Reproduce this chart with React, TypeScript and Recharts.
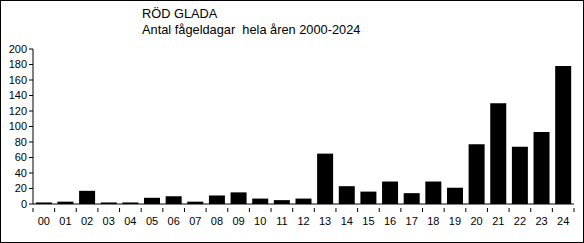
import { BarChart, Bar, XAxis, YAxis } from 'recharts';

const years = ['00', '01', '02', '03', '04', '05', '06', '07', '08', '09', '10', '11', '12',
  '13', '14', '15', '16', '17', '18', '19', '20', '21', '22', '23', '24'];
const dagar = [2, 3, 17, 2, 2, 8, 10, 3, 11, 15, 7, 5, 7,
  65, 23, 16, 29, 14, 29, 21, 77, 130, 74, 93, 178];
const yTicks = [0, 20, 40, 60, 80, 100, 120, 140, 160, 180, 200];

const W = 584;
const H = 243;
const LEFT = 33;
const RIGHT = 10;
const font = 'Arial, "Liberation Sans", sans-serif';

const data = years.map((y, i) => ({ year: y, value: dagar[i] }));

const bandW = (W - LEFT - RIGHT) / years.length;

function XTick(props: any) {
  const { x, y, payload, index } = props;
  const left = x - bandW / 2;
  return (
    <g>
      <line x1={left} y1={y - 4} x2={left} y2={y} stroke="#000" />
      {index === years.length - 1 && (
        <line x1={x + bandW / 2} y1={y - 4} x2={x + bandW / 2} y2={y} stroke="#000" />
      )}
      <text x={x} y={y + 13} textAnchor="middle" fontSize={11} fontFamily={font} fill="#000">
        {payload.value}
      </text>
    </g>
  );
}

export default function App() {
  return (
    <div style={{ position: 'fixed', left: 0, top: 0, width: W, height: H, background: '#fff' }}>
      <div
        style={{
          position: 'absolute', left: 0, top: 0, width: W - 2, height: H - 2,
          border: '1px solid #000',
        }}
      />
      <div
        style={{
          position: 'absolute', left: 142, top: 6, fontFamily: font, fontSize: 12.8,
          lineHeight: '16px', whiteSpace: 'pre', color: '#000',
        }}
      >
        <div>RÖD GLADA</div>
        <div>Antal fågeldagar  hela åren 2000-2024</div>
      </div>
      <div style={{ position: 'absolute', left: 0, top: 0 }}>
        <BarChart
          width={W}
          height={H}
          data={data}
          margin={{ top: 49, right: RIGHT, bottom: 19, left: 8 }}
          barCategoryGap="13%"
        >
          <XAxis
            dataKey="year"
            stroke="#000"
            tickLine={false}
            tick={<XTick />}
            interval={0}
            height={20}
          />
          <YAxis
            domain={[0, 200]}
            ticks={yTicks}
            interval={0}
            width={25}
            stroke="#000"
            tickSize={4}
            tick={{ fontSize: 11, fontFamily: font, fill: '#000' }}
            tickMargin={2}
          />
          <Bar dataKey="value" fill="#000" isAnimationActive={false} />
        </BarChart>
      </div>
    </div>
  );
}
